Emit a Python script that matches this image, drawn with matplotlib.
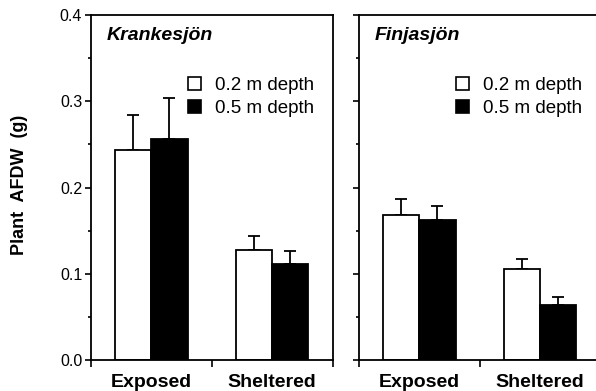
import matplotlib
matplotlib.use("Agg")
import matplotlib.pyplot as plt
from matplotlib.patches import Patch

plt.rcParams['font.family'] = ['Liberation Sans', 'DejaVu Sans']

# 数据：均值与标准误（只画向上的误差棒）
sites = ['Krankesjön', 'Finjasjön']
categories = ['Exposed', 'Sheltered']
depth_labels = ['0.2 m depth', '0.5 m depth']
shallow_mean = {'Krankesjön': [0.243, 0.127], 'Finjasjön': [0.168, 0.106]}
shallow_se = {'Krankesjön': [0.041, 0.017], 'Finjasjön': [0.019, 0.011]}
deep_mean = {'Krankesjön': [0.256, 0.111], 'Finjasjön': [0.162, 0.064]}
deep_se = {'Krankesjön': [0.048, 0.015], 'Finjasjön': [0.016, 0.009]}

W, H = 596, 391
fig = plt.figure(figsize=(W / 100, H / 100), dpi=100)

# 面板位置（像素）：左面板 91-332，右面板 359 起，右侧被裁掉
panel_left = [91, 359]
panel_width = 241.5
bottom_px, top_px = 360, 15

bar_w = 0.30
centers = [0.5, 1.5]

for i, site in enumerate(sites):
    ax = fig.add_axes([panel_left[i] / W, (H - bottom_px) / H,
                       panel_width / W, (bottom_px - top_px) / H])
    xs_white = [c - bar_w / 2 for c in centers]
    xs_black = [c + bar_w / 2 for c in centers]
    ax.bar(xs_white, shallow_mean[site], width=bar_w, color='white',
           edgecolor='black', linewidth=1.3, zorder=2)
    ax.bar(xs_black, deep_mean[site], width=bar_w, color='black',
           edgecolor='black', linewidth=1.3, zorder=2)
    ax.errorbar(xs_white, shallow_mean[site],
                yerr=[[0, 0], shallow_se[site]], fmt='none', ecolor='black',
                elinewidth=1.3, capsize=4.5, capthick=1.3, zorder=1)
    ax.errorbar(xs_black, deep_mean[site],
                yerr=[[0, 0], deep_se[site]], fmt='none', ecolor='black',
                elinewidth=1.3, capsize=4.5, capthick=1.3, zorder=1)

    ax.set_xlim(0, 2)
    ax.set_ylim(0, 0.4)
    ax.set_yticks([0, 0.1, 0.2, 0.3, 0.4])
    ax.set_yticks([0.05, 0.15, 0.25, 0.35], minor=True)
    ax.set_xticks([0, 1, 2])
    ax.set_xticklabels([])
    ax.set_xticks(centers, minor=True)
    ax.set_xticklabels(categories, minor=True, fontsize=14, fontweight='bold')
    ax.tick_params(axis='x', which='major', direction='out', length=5, width=1.2)
    ax.tick_params(axis='x', which='minor', length=0, pad=10)
    ax.tick_params(axis='y', which='major', direction='out', length=4.3,
                   width=1.2, pad=2, labelsize=11.5)
    ax.tick_params(axis='y', which='minor', direction='out', length=2, width=1.2)
    if i == 1:
        ax.set_yticklabels([])
    for sp in ax.spines.values():
        sp.set_linewidth(1.3)

    ax.text(0.065, 0.965, site, transform=ax.transAxes, fontsize=14,
            fontweight='bold', fontstyle='italic', va='top', ha='left')

    handles = [Patch(facecolor='white', edgecolor='black', linewidth=1.2),
               Patch(facecolor='black', edgecolor='black', linewidth=1.2)]
    ax.legend(handles, depth_labels, loc='upper left',
              bbox_to_anchor=(0.40, 0.82), frameon=False, fontsize=13.5,
              handlelength=0.7, handleheight=0.7, handletextpad=0.75,
              labelspacing=0.3, borderpad=0, borderaxespad=0)

fig.text(20 / W, 0.527, 'Plant  AFDW  (g)', rotation=90, fontsize=13,
         fontweight='bold', ha='center', va='center')

fig.savefig('out.png', dpi=100)
